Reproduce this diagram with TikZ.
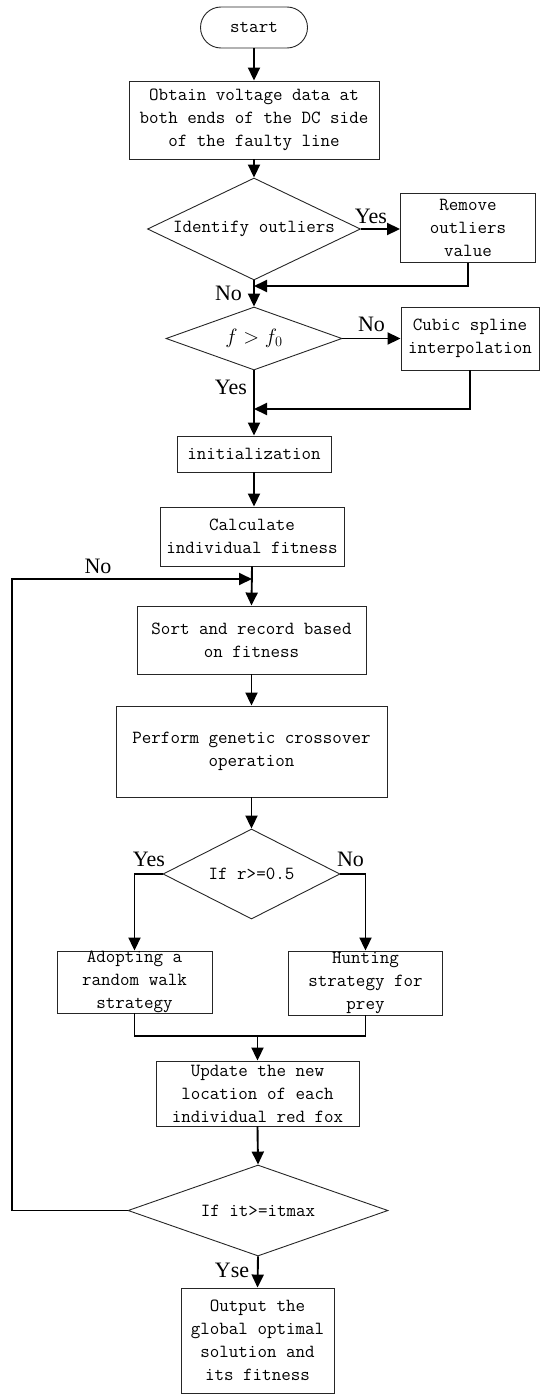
\documentclass[tikz,border=0pt]{standalone}
\usepackage{fontspec}
\newfontfamily\labfont{Liberation Serif}
\usetikzlibrary{shapes.geometric,arrows.meta}
\begin{document}
\begin{tikzpicture}[x=1pt,y=-1pt,
  txt/.style={font=\fontsize{18.5}{23}\selectfont\ttfamily, align=center, inner sep=0pt},
  box/.style={txt, draw=black!85, line width=0.9pt, rectangle},
  dia/.style={txt, draw=black!85, line width=0.9pt, diamond},
  conn/.style={line width=1.9pt, -{Triangle[length=13pt,width=12pt]}},
  plain/.style={line width=1.9pt},
  lab/.style={font=\fontsize{22}{26}\selectfont\labfont, inner sep=0pt, anchor=base}
]
\useasboundingbox (0,0) rectangle (550,1400);

% nodes
\node[box, rounded corners=20.5pt, minimum width=107pt, minimum height=41pt] (start) at (254,27.5) {start};
\node[box, minimum width=250pt, minimum height=78pt] (b1) at (254,120) {Obtain voltage data at\\both ends of the DC side\\of the faulty line};
\node[dia, shape aspect=2.09, minimum width=213pt, minimum height=102pt] (d1) at (254,229) {Identify outliers};
\node[box, minimum width=135pt, minimum height=69pt] (rem) at (468,228) {Remove\\outliers\\value};
\node[dia, shape aspect=2.8, minimum width=176pt, minimum height=63pt] (d2) at (254,338.5) {\fontsize{20}{24}\selectfont$f > f_0$};
\node[box, minimum width=138pt, minimum height=63pt] (cub) at (470,338.5) {Cubic spline\\interpolation};
\node[box, minimum width=154pt, minimum height=36pt] (init) at (254,454) {initialization};
\node[box, minimum width=184pt, minimum height=59pt] (calc) at (252,536.5) {Calculate\\individual fitness};
\node[box, minimum width=229pt, minimum height=68pt] (sort) at (251.5,640) {Sort and record based\\on fitness};
\node[box, minimum width=271pt, minimum height=91pt] (perf) at (251.5,751.5) {Perform genetic crossover\\operation};
\node[dia, shape aspect=1.97, minimum width=177pt, minimum height=90pt] (d3) at (251.5,874) {If r>=0.5};
\node[box, minimum width=155pt, minimum height=62pt] (adopt) at (134.5,982) {Adopting a\\random walk\\strategy};
\node[box, minimum width=154pt, minimum height=64pt] (hunt) at (365.5,983) {Hunting\\strategy for\\prey};
\node[box, minimum width=203pt, minimum height=65pt] (upd) at (257.5,1093.5) {Update the new\\location of each\\individual red fox};
\node[dia, shape aspect=2.86, minimum width=260pt, minimum height=91pt] (d4) at (258,1210.5) {If it>=itmax};
\node[box, minimum width=153pt, minimum height=105pt] (out) at (257.5,1340.5) {Output the\\global optimal\\solution and\\its fitness};

% coordinates
\coordinate (c1) at (254,286);
\coordinate (c2) at (254,409);
\coordinate (c3) at (252,579);
\coordinate (c4) at (257.5,1036);
\coordinate (mr) at (365.5,1036);
\coordinate (lb) at (12,1210.5);
\coordinate (lt) at (12,579);

% connectors
\draw[conn] (start.south) -- (b1.north);
\draw[conn] (b1.south) -- (d1.north);
\draw[conn] (d1.east) -- (d1.east -| rem.west);
\draw[conn] (rem.south) |- (c1);
\draw[conn] (d1.south) -- (d2.north);
\draw[conn] (d2.east) -- (d2.east -| cub.west);
\draw[conn] (cub.south) |- (c2);
\draw[conn] (d2.south) -- (init.north);
\draw[conn] (init.south) -- (init.south |- calc.north);
\draw[conn] (calc.south) -- (sort.north);
\draw[conn] (d4.west) -- (lb) -- (lt) -- (c3);
\draw[conn] (sort.south) -- (perf.north);
\draw[conn] (perf.south) -- (d3.north);
\draw[conn] (d3.west) -| (adopt.north);
\draw[conn] (d3.east) -| (hunt.north);
\draw[plain] (adopt.south) |- (mr) -- (hunt.south);
\draw[conn] (c4) -- (upd.north);
\draw[conn] (upd.south) -- (d4.north);
\draw[conn] (d4.south) -- (out.north);

% labels
\node[lab] (l1) at (371,223) {Yes};
\node[lab] (l2) at (228.5,300) {No};
\node[lab] (l3) at (371.5,331.5) {No};
\node[lab] (l4) at (231,394) {Yes};
\node[lab] (l5) at (98,573) {No};
\node[lab] (l6) at (149,866) {Yes};
\node[lab] (l7) at (350.5,866) {No};
\node[lab] (l8) at (232,1277) {Yse};
\end{tikzpicture}
\end{document}
